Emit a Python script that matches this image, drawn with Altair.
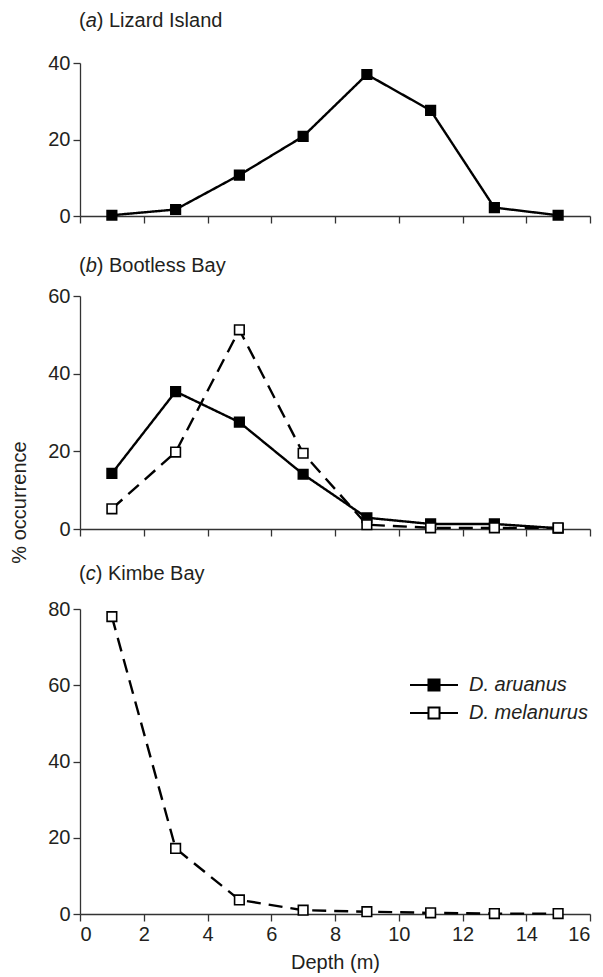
import altair as alt
import pandas as pd

# ---- data ----
depth = [1, 3, 5, 7, 9, 11, 13, 15]
lizard_aruanus = [0.2, 1.7, 10.7, 20.8, 37.0, 27.6, 2.2, 0.2]
bootless_aruanus = [14.3, 35.4, 27.5, 14.1, 2.9, 1.3, 1.3, 0.2]
bootless_melanurus = [5.2, 19.8, 51.3, 19.5, 1.1, 0.3, 0.3, 0.3]
kimbe_melanurus = [78.0, 17.2, 3.7, 1.0, 0.6, 0.3, 0.1, 0.1]

series_names = ["D. aruanus", "D. melanurus"]
panel_letters = ["a", "b", "c"]
panel_names = ["Lizard Island", "Bootless Bay", "Kimbe Bay"]
y_max = [40, 60, 80]
x_ticks = [0, 2, 4, 6, 8, 10, 12, 14, 16]

FONT = "Liberation Sans"
INK = "#231f20"
FS = 20


def frame(pairs):
    rows = []
    for name, vals in pairs:
        for d, v in zip(depth, vals):
            rows.append({"depth": d, "pct": v, "species": name})
    return pd.DataFrame(rows)


letter_w = {"a": 0.556, "b": 0.556, "c": 0.5}


def panel(df, ymax, height, letter, name, title_dy, bottom, y_axis_extra=None, legend=None):
    x_axis = alt.Axis(values=x_ticks, labels=bottom, title="Depth (m)" if bottom else None,
                      titleFontWeight="normal", titleFontSize=FS, titlePadding=8,
                      titleFont=FONT, titleColor=INK)
    y_kw = dict(values=list(range(0, ymax + 1, 20)), title=None)
    if y_axis_extra:
        y_kw.update(y_axis_extra)
    x = alt.X("depth:Q", scale=alt.Scale(domain=[0, 16], nice=False), axis=x_axis)
    y = alt.Y("pct:Q", scale=alt.Scale(domain=[0, ymax], nice=False), axis=alt.Axis(**y_kw))

    # dash scale listed in reverse order so it is never merged with the fill legend
    line = alt.Chart(df).mark_line(color="black", strokeWidth=2.4).encode(
        x=x, y=y,
        detail="species:N",
        strokeDash=alt.StrokeDash("species:N",
                                  scale=alt.Scale(domain=series_names[::-1],
                                                  range=[[14, 8], [1, 0]]),
                                  legend=None),
    )
    pts = alt.Chart(df).mark_point(shape="square", filled=True, size=92, stroke="black",
                                   strokeWidth=1.6, opacity=1).encode(
        x=x, y=y,
        fill=alt.Fill("species:N",
                      scale=alt.Scale(domain=series_names, range=["black", "white"]),
                      legend=legend),
    )

    pw = 0.333 * FS
    lw = letter_w[letter] * FS
    tstyle = dict(align="left", baseline="middle", fontSize=FS, font=FONT, color=INK)
    t1 = alt.Chart(pd.DataFrame({"t": ["("]})).mark_text(**tstyle).encode(
        text="t:N", x=alt.value(-1), y=alt.value(-title_dy))
    t2 = alt.Chart(pd.DataFrame({"t": [letter]})).mark_text(fontStyle="italic", **tstyle).encode(
        text="t:N", x=alt.value(-1 + pw), y=alt.value(-title_dy))
    t3 = alt.Chart(pd.DataFrame({"t": [") " + name]})).mark_text(**tstyle).encode(
        text="t:N", x=alt.value(-1 + pw + lw), y=alt.value(-title_dy))

    return alt.layer(line, pts, t1, t2, t3).properties(width=510, height=height)


df_a = frame([(series_names[0], lizard_aruanus)])
df_b = frame([(series_names[0], bootless_aruanus), (series_names[1], bootless_melanurus)])
df_c = frame([(series_names[1], kimbe_melanurus)])

legend_path = "M-2,0H-0.46M0.46,0H2M-0.46,-0.46H0.46V0.46H-0.46Z"
legend_c = alt.Legend(
    title=None, orient="none", legendX=341, legendY=63,
    symbolType=legend_path, symbolSize=576, symbolStrokeColor="black",
    symbolStrokeWidth=2, labelFontSize=FS, labelFontStyle="italic", labelFont=FONT,
    labelColor=INK, labelOffset=22, rowPadding=5, padding=0,
)

pa = panel(df_a, y_max[0], 153, panel_letters[0], panel_names[0], 42, False)
pb = panel(df_b, y_max[1], 233, panel_letters[1], panel_names[1], 30, False,
           y_axis_extra=dict(title="% occurrence", titleX=-61, titleY=206, titleAngle=270,
                             titleBaseline="middle", titleAlign="center",
                             titleFontSize=FS, titleFontWeight="normal",
                             titleFont=FONT, titleColor=INK))
pc = panel(df_c, y_max[2], 305, panel_letters[2], panel_names[2], 35, True, legend=legend_c)

chart = alt.vconcat(pa, pb, pc, spacing=80, bounds="flush").resolve_scale(
    fill="independent", strokeDash="independent"
).resolve_legend(
    fill="independent", strokeDash="independent"
).properties(
    padding={"left": 9, "top": 11, "right": 5, "bottom": 5}
).configure_view(stroke=None).configure_axis(
    grid=False, labelFont=FONT, labelFontSize=FS, labelColor=INK,
    domainColor="#333333", domainWidth=1.3, tickColor="#333333", tickWidth=1.3,
    tickSize=7, labelPadding=3,
)

chart.save("out.html", embed_options={"renderer": "svg", "actions": False})
